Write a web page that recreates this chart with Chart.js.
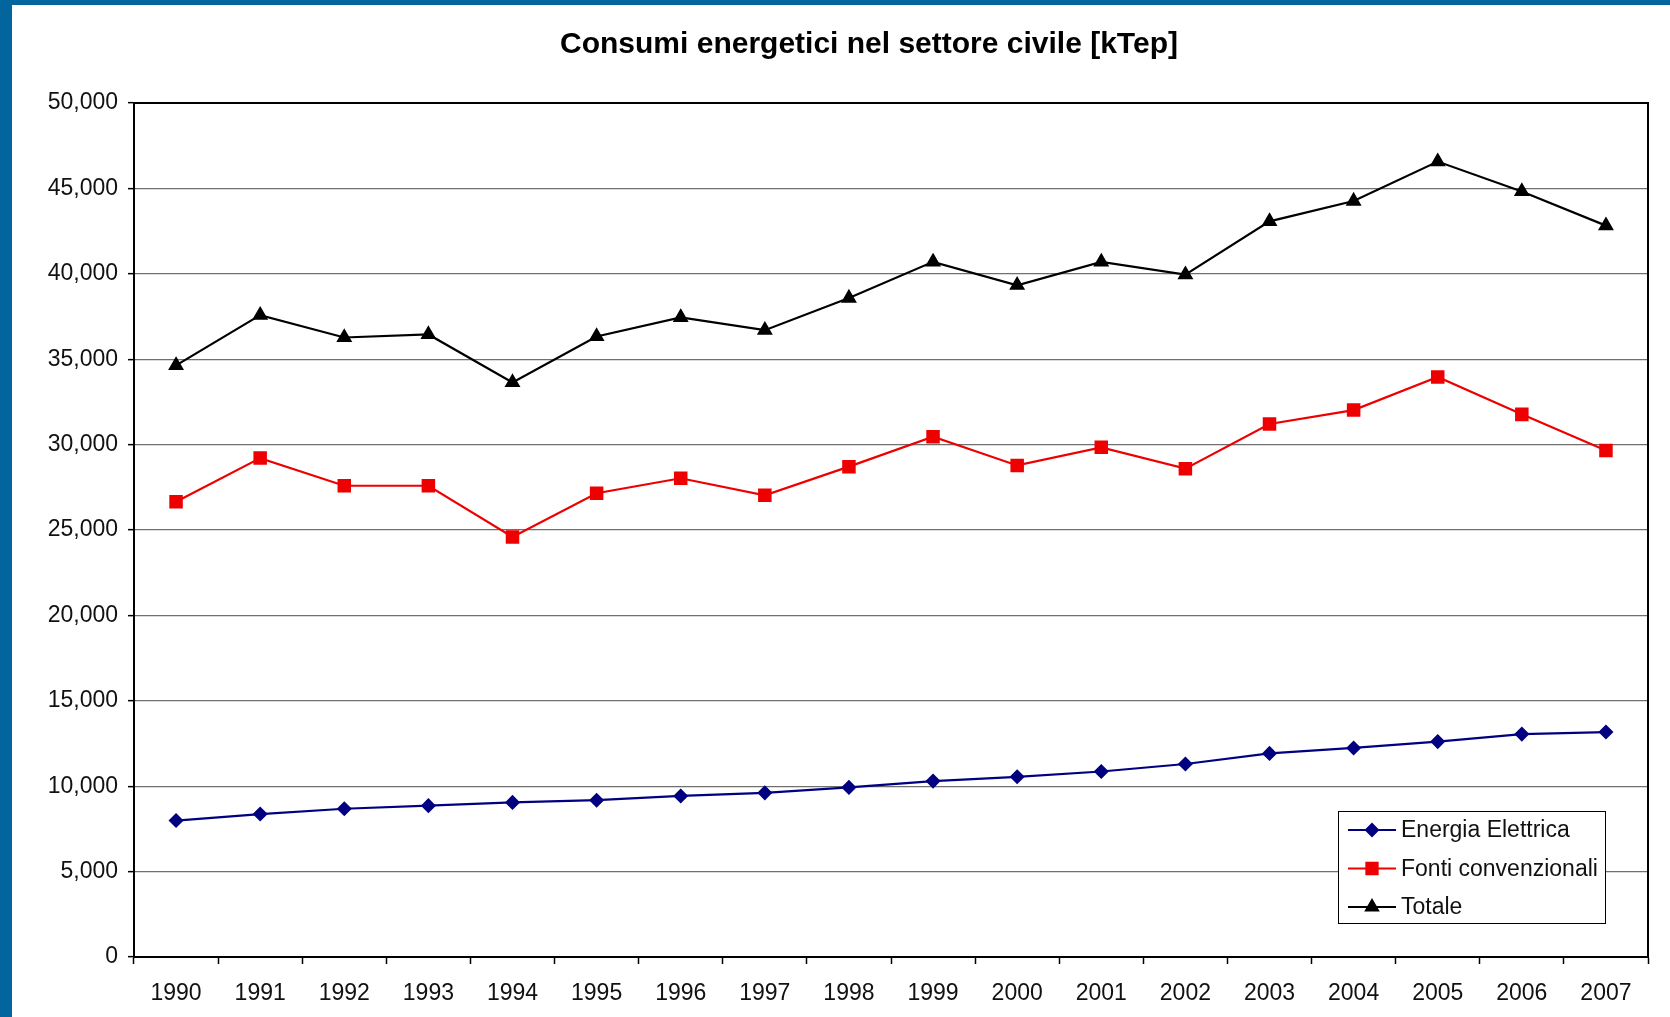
<!DOCTYPE html>
<html>
<head>
<meta charset="utf-8">
<script src="https://cdn.jsdelivr.net/npm/chart.js@4.4.1/dist/chart.umd.min.js"></script>
<style>
    html, body { margin: 0; padding: 0; background: #fff; }
    body {
        width: 1670px; height: 1017px; overflow: hidden; box-sizing: border-box;
        border-left: 12px solid #03659d; border-top: 5px solid #03659d;
    }
    #wrap { width: 1658px; height: 1012px; position: relative; }
</style>
</head>
<body>
<div id="wrap"><canvas id="chart"></canvas></div>
<script>
const years = ['1990', '1991', '1992', '1993', '1994', '1995', '1996', '1997', '1998',
    '1999', '2000', '2001', '2002', '2003', '2004', '2005', '2006', '2007'];

const energiaElettrica = [7990, 8370, 8680, 8860, 9050, 9180, 9430, 9610, 9930,
    10300, 10550, 10860, 11300, 11920, 12240, 12610, 13050, 13170];

const fontiConvenzionali = [26650, 29210, 27590, 27590, 24590, 27150, 28030, 27030, 28710,
    30460, 28780, 29840, 28590, 31210, 32020, 33960, 31770, 29650];

const totale = [34640, 37580, 36270, 36450, 33640, 36330, 37450, 36700, 38580,
    40700, 39330, 40700, 39950, 43070, 44260, 46570, 44820, 42820];

const yTicks = { min: 0, max: 50000, step: 5000 };

const chartTitle = 'Consumi energetici nel settore civile [kTep]';

const FONT = "'Liberation Sans', Arial, sans-serif";

// title drawn by hand so it can sit a bit left of the plot centre, like the original
const titleText = {
    id: 'titleText',
    afterDraw(chart) {
        const { ctx } = chart;
        ctx.save();
        ctx.fillStyle = '#000';
        ctx.font = 'bold 30px ' + FONT;
        ctx.textAlign = 'center';
        ctx.textBaseline = 'middle';
        ctx.fillText(chartTitle, 857, 40);
        ctx.restore();
    }
};

// frame on top and right of the plot area
const plotFrame = {
    id: 'plotFrame',
    beforeDatasetsDraw(chart) {
        const { ctx, chartArea } = chart;
        ctx.save();
        ctx.strokeStyle = '#000';
        ctx.lineWidth = 2;
        ctx.beginPath();
        ctx.moveTo(chartArea.left, chartArea.top);
        ctx.lineTo(chartArea.right, chartArea.top);
        ctx.lineTo(chartArea.right, chartArea.bottom);
        ctx.stroke();
        ctx.restore();
    }
};

// legend box inside the plot, bottom right
const boxLegend = {
    id: 'boxLegend',
    afterDraw(chart) {
        const { ctx, chartArea } = chart;
        const w = 267, h = 112;
        const x = chartArea.right - 43 - w;
        const y = chartArea.bottom - 34 - h;
        ctx.save();
        ctx.fillStyle = '#fff';
        ctx.fillRect(x, y, w, h);
        ctx.strokeStyle = '#000';
        ctx.lineWidth = 1;
        ctx.strokeRect(x + 0.5, y + 0.5, w, h);

        chart.data.datasets.forEach((ds, i) => {
            const cy = y + 19 + i * 38.5;
            ctx.strokeStyle = ds.borderColor;
            ctx.lineWidth = 2;
            ctx.beginPath();
            ctx.moveTo(x + 10, cy);
            ctx.lineTo(x + 58, cy);
            ctx.stroke();
            ctx.fillStyle = ds.pointBackgroundColor;
            ctx.strokeStyle = ds.pointBorderColor;
            Chart.helpers.drawPoint(ctx, {
                pointStyle: ds.pointStyle,
                radius: ds.pointRadius,
                rotation: 0,
                borderWidth: 1
            }, x + 34, cy);
            ctx.fillStyle = '#111';
            ctx.font = '23px ' + FONT;
            ctx.textAlign = 'left';
            ctx.textBaseline = 'middle';
            ctx.fillText(ds.label, x + 63, cy + 1);
        });
        ctx.restore();
    }
};

function series(label, data, color, style, radius) {
    return {
        label: label,
        data: data,
        borderColor: color,
        backgroundColor: color,
        pointBackgroundColor: color,
        pointBorderColor: color,
        pointStyle: style,
        pointRadius: radius,
        pointHoverRadius: radius,
        borderWidth: 2.2,
        tension: 0
    };
}

new Chart(document.getElementById('chart'), {
    type: 'line',
    data: {
        labels: years,
        datasets: [
            series('Energia Elettrica', energiaElettrica, '#000080', 'rectRot', 6),
            series('Fonti convenzionali', fontiConvenzionali, '#ee0000', 'rect', 8),
            series('Totale', totale, '#000000', 'triangle', 7)
        ]
    },
    options: {
        responsive: true,
        maintainAspectRatio: false,
        animation: false,
        layout: { padding: { left: 0, right: 22, top: 98, bottom: 0 } },
        plugins: {
            legend: { display: false },
            tooltip: { enabled: false },
            title: { display: false }
        },
        scales: {
            x: {
                offset: true,
                grid: {
                    offset: true,
                    drawOnChartArea: false,
                    drawTicks: true,
                    tickLength: 7,
                    tickColor: '#000',
                    tickWidth: 1.5
                },
                border: { display: true, color: '#000', width: 2 },
                ticks: {
                    color: '#111',
                    padding: 16,
                    maxRotation: 0,
                    font: { family: FONT, size: 23 }
                },
                afterFit(scale) { scale.height = 60; }
            },
            y: {
                min: yTicks.min,
                max: yTicks.max,
                grid: {
                    color: '#707070',
                    lineWidth: 1.3,
                    tickLength: 6,
                    tickColor: '#000',
                    tickWidth: 1.5
                },
                border: { display: true, color: '#000', width: 2 },
                ticks: {
                    stepSize: yTicks.step,
                    color: '#111',
                    padding: 10,
                    font: { family: FONT, size: 23 },
                    callback: v => v.toLocaleString('en-US')
                },
                afterFit(scale) { scale.width = 122; }
            }
        }
    },
    plugins: [plotFrame, boxLegend, titleText]
});
</script>
</body>
</html>
